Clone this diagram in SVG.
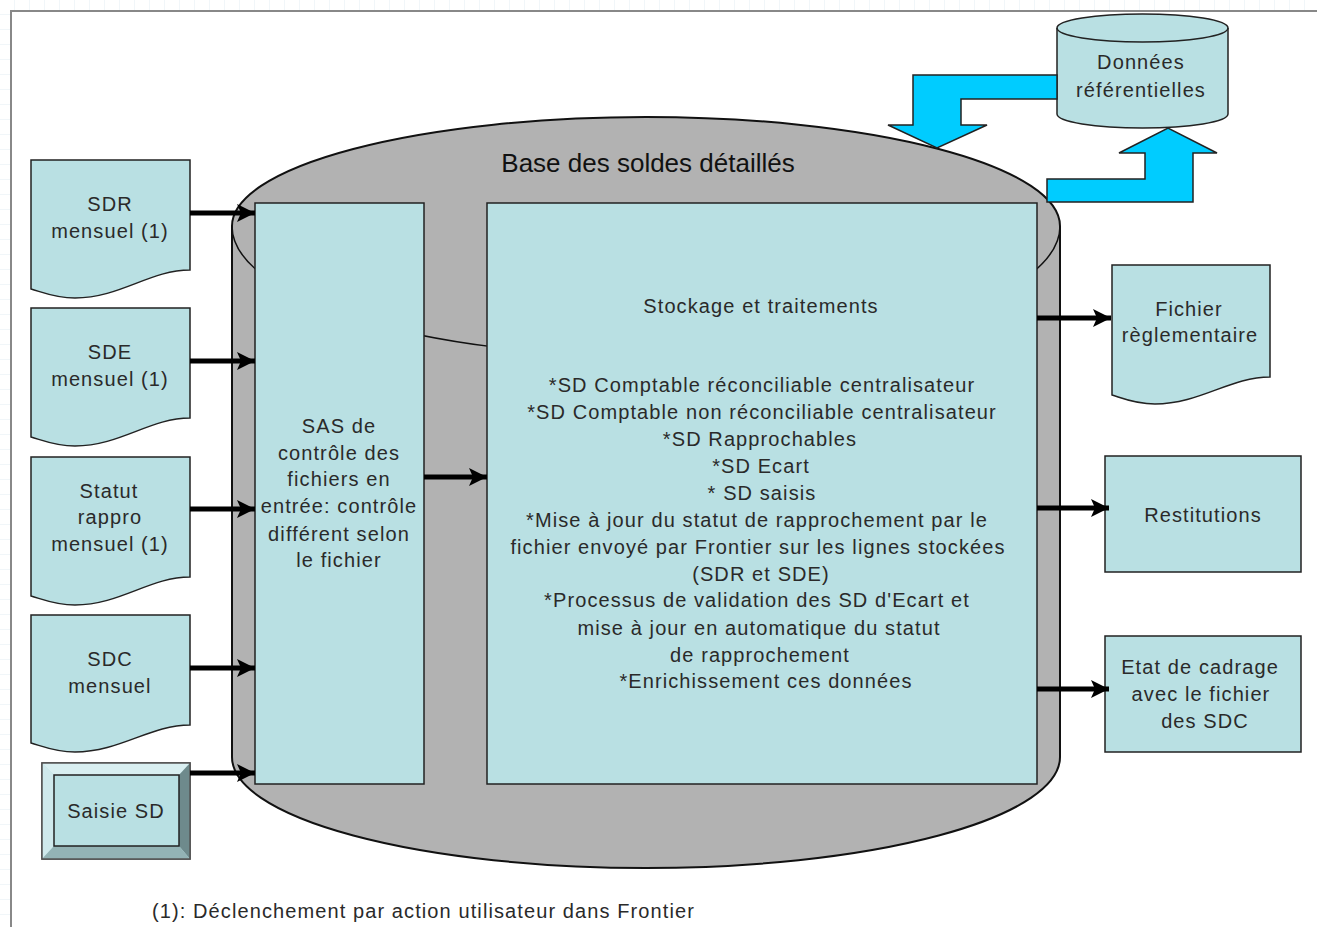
<svg xmlns="http://www.w3.org/2000/svg" width="1317" height="927" viewBox="0 0 1317 927">
<defs>
<pattern id="grid" width="15" height="15" patternUnits="userSpaceOnUse">
<path d="M15 0 V15 M0 15 H15" fill="none" stroke="#e3edf2" stroke-width="1"/>
</pattern>
<marker id="ah" markerUnits="userSpaceOnUse" markerWidth="20" markerHeight="18" refX="18" refY="9" orient="auto">
<polygon points="0,0 18,9 0,18 4,9" fill="#000"/>
</marker>
</defs>
<style>
.t{font-family:"Liberation Sans",Arial,sans-serif;fill:#2a2a2a;text-anchor:middle;font-size:20px;letter-spacing:1.1px}
.box{fill:#b9e0e3;stroke:#222;stroke-width:1.5}
.arr{stroke:#000;stroke-width:5;fill:none;marker-end:url(#ah)}
.blue{fill:#00ccff;stroke:#222;stroke-width:1.5}
</style>
<rect width="1317" height="927" fill="#fff"/>
<rect width="1317" height="927" fill="url(#grid)"/>
<rect x="11" y="11" width="1330" height="940" fill="#fff" stroke="#888" stroke-width="2"/>

<g id="base">
<path d="M232,226 V757 A414,111 0 0 0 1060,757 V226 A414,109 0 0 0 232,226 Z" fill="#b2b2b2" stroke="#111" stroke-width="2"/>
<path d="M232,226 A414,130 0 0 0 1060,226" fill="none" stroke="#111" stroke-width="1.5"/>
<text x="648" y="172" style="font-family:'Liberation Sans',Arial,sans-serif;font-size:26px;fill:#111;text-anchor:middle">Base des soldes détaillés</text>
</g>

<g id="sas">
<rect class="box" x="255" y="203" width="169" height="581"/>
<text class="t" x="339" y="433">SAS de</text>
<text class="t" x="339" y="460">contrôle des</text>
<text class="t" x="339" y="486">fichiers en</text>
<text class="t" x="339" y="513">entrée: contrôle</text>
<text class="t" x="339" y="541">différent selon</text>
<text class="t" x="339" y="567">le fichier</text>
</g>

<g id="stockage">
<rect class="box" x="487" y="203" width="550" height="581"/>
<text class="t" x="761" y="313">Stockage et traitements</text>
<text class="t" x="762" y="392">*SD Comptable réconciliable centralisateur</text>
<text class="t" x="762" y="419">*SD Comptable non réconciliable centralisateur</text>
<text class="t" x="760" y="446">*SD Rapprochables</text>
<text class="t" x="761" y="473">*SD Ecart</text>
<text class="t" x="762" y="500">* SD saisis</text>
<text class="t" x="757" y="527">*Mise à jour du statut de rapprochement par le</text>
<text class="t" x="758" y="554">fichier envoyé par Frontier sur les lignes stockées</text>
<text class="t" x="761" y="581">(SDR et SDE)</text>
<text class="t" x="757" y="607">*Processus de validation des SD d'Ecart et</text>
<text class="t" x="759" y="635">mise à jour en automatique du statut</text>
<text class="t" x="760" y="662">de rapprochement</text>
<text class="t" x="766" y="688">*Enrichissement ces données</text>
</g>

<g id="sdr">
<path class="box" d="M31,160 H190 V270 C150,270 120,298 75,298 C55,298 42,292 31,289 Z"/>
<text class="t" x="110" y="211">SDR</text>
<text class="t" x="110" y="238">mensuel (1)</text>
</g>
<g id="sde">
<path class="box" d="M31,308 H190 V418 C150,418 120,446 75,446 C55,446 42,440 31,437 Z"/>
<text class="t" x="110" y="359">SDE</text>
<text class="t" x="110" y="386">mensuel (1)</text>
</g>
<g id="statut">
<path class="box" d="M31,457 H190 V577 C150,577 120,605 75,605 C55,605 42,599 31,596 Z"/>
<text class="t" x="109" y="498">Statut</text>
<text class="t" x="110" y="524">rappro</text>
<text class="t" x="110" y="551">mensuel (1)</text>
</g>
<g id="sdc">
<path class="box" d="M31,615 H190 V725 C150,725 120,752 75,752 C55,752 42,746 31,743 Z"/>
<text class="t" x="110" y="666">SDC</text>
<text class="t" x="110" y="693">mensuel</text>
</g>
<g id="saisie">
<rect x="42" y="763" width="148" height="96" fill="#b9e0e3" stroke="#333" stroke-width="1.5"/>
<polygon points="42,763 190,763 179,775 54,775" fill="#d9eff1"/>
<polygon points="42,763 54,775 54,846 42,859" fill="#cfe9ec"/>
<polygon points="190,763 179,775 179,846 190,859" fill="#6e8a8c"/>
<polygon points="42,859 54,846 179,846 190,859" fill="#93b3b5"/>
<rect x="54" y="775" width="125" height="71" fill="#b9e0e3" stroke="#222" stroke-width="1.5"/>
<rect x="42" y="763" width="148" height="96" fill="none" stroke="#555" stroke-width="1.5"/>
<text class="t" x="116" y="818">Saisie SD</text>
</g>

<g id="fichier">
<path class="box" d="M1112,265 H1270 V377 C1230,377 1200,404 1155,404 C1135,404 1122,398 1112,395 Z"/>
<text class="t" x="1189" y="316">Fichier</text>
<text class="t" x="1190" y="342">règlementaire</text>
</g>
<g id="restitutions">
<rect class="box" x="1105" y="456" width="196" height="116"/>
<text class="t" x="1203" y="522">Restitutions</text>
</g>
<g id="etat">
<rect class="box" x="1105" y="636" width="196" height="116"/>
<text class="t" x="1200" y="674">Etat de cadrage</text>
<text class="t" x="1201" y="701">avec le fichier</text>
<text class="t" x="1205" y="728">des SDC</text>
</g>

<g id="donnees">
<path class="box" d="M1057,28 V114 A85.5,14 0 0 0 1228,114 V28 A85.5,14 0 0 0 1057,28 Z"/>
<path d="M1057,28 A85.5,14 0 0 0 1228,28" fill="none" stroke="#222" stroke-width="1.5"/>
<text class="t" x="1141" y="69">Données</text>
<text class="t" x="1141" y="97">référentielles</text>
</g>

<g id="connectors">
<polygon class="blue" points="1057,75 913,75 913,125 888,125 937,148 987,125 961,125 961,99 1057,99"/>
<polygon class="blue" points="1047,202 1193,202 1193,153 1217,153 1168,128 1119,153 1145,153 1145,179 1047,179"/>
<line class="arr" x1="190" y1="213" x2="255" y2="213"/>
<line class="arr" x1="190" y1="361" x2="255" y2="361"/>
<line class="arr" x1="190" y1="509" x2="255" y2="509"/>
<line class="arr" x1="190" y1="668" x2="255" y2="668"/>
<line class="arr" x1="190" y1="773" x2="255" y2="773"/>
<line class="arr" x1="424" y1="477" x2="487" y2="477"/>
<line class="arr" x1="1037" y1="318" x2="1111" y2="318"/>
<line class="arr" x1="1037" y1="508" x2="1109" y2="508"/>
<line class="arr" x1="1037" y1="689" x2="1109" y2="689"/>
</g>

<text x="152" y="918" style="font-family:'Liberation Sans',Arial,sans-serif;font-size:20px;letter-spacing:1.1px;fill:#2a2a2a">(1): Déclenchement par action utilisateur dans Frontier</text>
</svg>
